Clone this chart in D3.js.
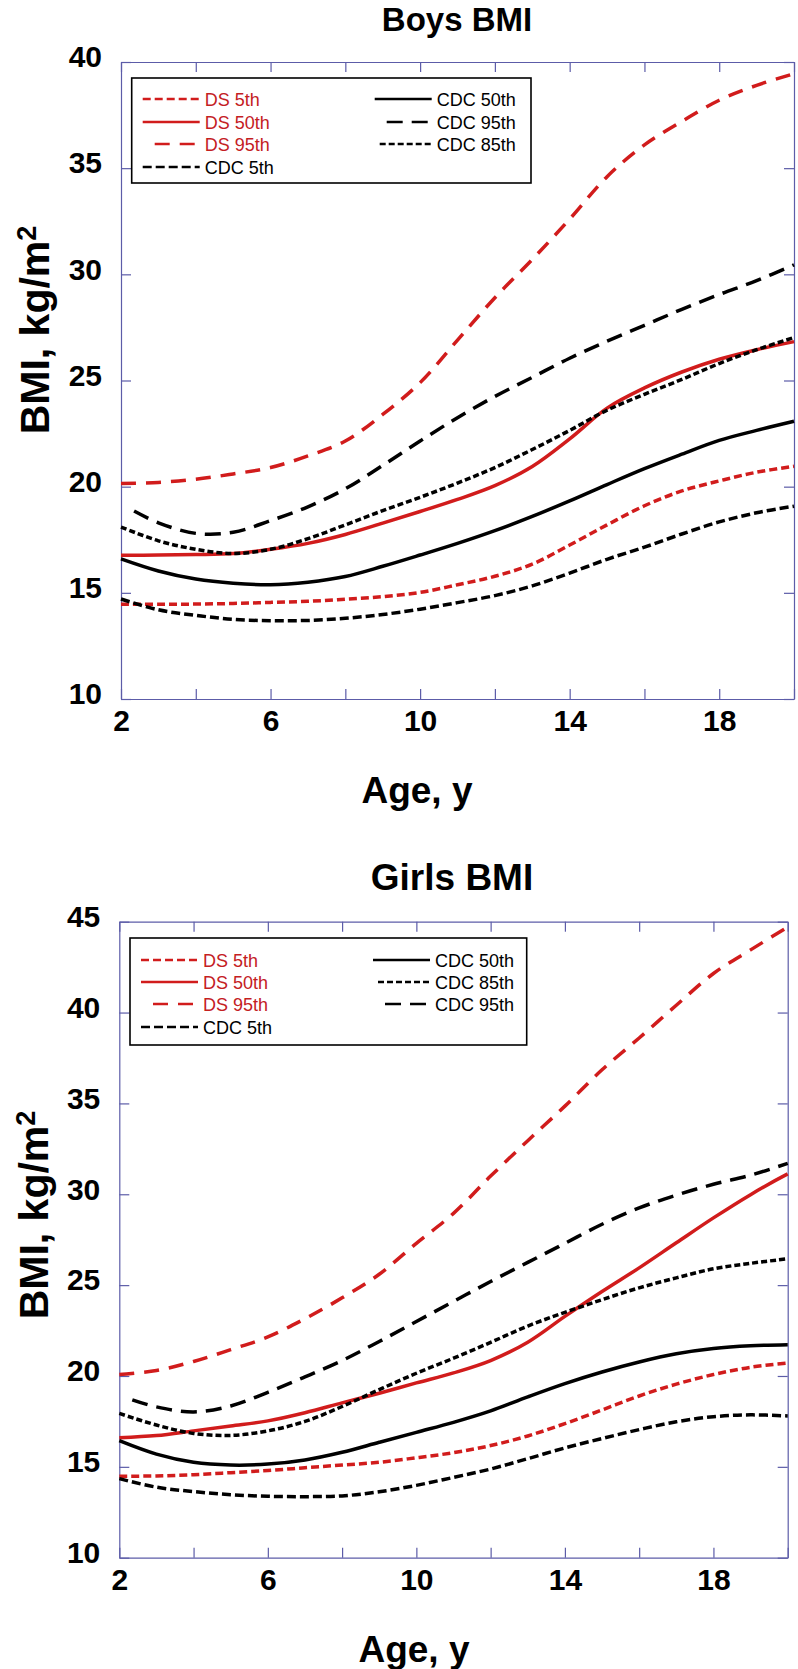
<!DOCTYPE html>
<html>
<head>
<meta charset="utf-8">
<script src="https://cdn.jsdelivr.net/npm/d3@7"></script>
<style>
  body { margin: 0; background: #fff; }
  text { font-family: "Liberation Sans", Arial, sans-serif; }
</style>
</head>
<body>
<div id="chart"></div>
<script>
// ages (years) shared by most curves; CDC 95th starts a little after 2
const ages = [2, 3, 4, 5, 6, 7, 8, 9, 10, 11, 12, 13, 14, 15, 16, 17, 18, 19, 20];
const agesCdc95 = [2.35, 3, 4, 5, 6, 7, 8, 9, 10, 11, 12, 13, 14, 15, 16, 17, 18, 19, 20];
const xTicks = [2, 4, 6, 8, 10, 12, 14, 16, 18, 20];

// Boys BMI percentiles
const boysDs5 = [14.46, 14.46, 14.47, 14.5, 14.55, 14.6, 14.7, 14.82, 15.02, 15.38, 15.78, 16.35, 17.25, 18.2, 19.1, 19.8, 20.27, 20.68, 20.96];
const boysDs50 = [16.77, 16.78, 16.8, 16.85, 17.05, 17.33, 17.75, 18.28, 18.83, 19.4, 20.05, 20.95, 22.25, 23.7, 24.65, 25.4, 26.0, 26.45, 26.83];
const boysDs95 = [20.15, 20.2, 20.35, 20.6, 20.9, 21.45, 22.15, 23.4, 24.9, 26.9, 28.9, 30.7, 32.6, 34.6, 36.1, 37.2, 38.2, 38.9, 39.45];
const boysCdc5 = [14.71, 14.2, 13.94, 13.75, 13.69, 13.7, 13.8, 13.98, 14.23, 14.54, 14.87, 15.33, 15.93, 16.58, 17.15, 17.77, 18.34, 18.77, 19.08];
const boysCdc50 = [16.6, 16.03, 15.65, 15.45, 15.38, 15.5, 15.77, 16.25, 16.78, 17.33, 17.93, 18.6, 19.33, 20.1, 20.85, 21.53, 22.18, 22.65, 23.08];
const boysCdc85 = [18.1, 17.45, 17.05, 16.85, 17.05, 17.55, 18.2, 18.87, 19.5, 20.17, 20.9, 21.75, 22.65, 23.6, 24.35, 25.05, 25.8, 26.45, 27.02];
const boysCdc95 = [18.85, 18.3, 17.8, 17.85, 18.4, 19.05, 19.9, 21.0, 22.15, 23.25, 24.25, 25.15, 26.05, 26.85, 27.6, 28.35, 29.05, 29.7, 30.45];

// Girls BMI percentiles
const girlsDs5 = [14.48, 14.5, 14.57, 14.68, 14.8, 14.95, 15.1, 15.25, 15.5, 15.78, 16.17, 16.7, 17.38, 18.13, 18.9, 19.55, 20.08, 20.48, 20.71];
const girlsDs50 = [16.6, 16.72, 16.98, 17.25, 17.53, 17.98, 18.52, 19.05, 19.62, 20.17, 20.85, 21.86, 23.28, 24.65, 25.95, 27.33, 28.7, 29.98, 31.12];
const girlsDs95 = [20.08, 20.3, 20.8, 21.45, 22.15, 23.15, 24.3, 25.6, 27.3, 28.95, 31.0, 32.95, 34.85, 36.85, 38.6, 40.4, 42.15, 43.45, 44.7];
const girlsCdc5 = [14.35, 13.88, 13.64, 13.47, 13.38, 13.36, 13.4, 13.63, 13.98, 14.42, 14.88, 15.45, 16.04, 16.56, 17.05, 17.48, 17.76, 17.86, 17.8];
const girlsCdc50 = [16.44, 15.7, 15.25, 15.1, 15.15, 15.38, 15.8, 16.35, 16.9, 17.45, 18.08, 18.85, 19.58, 20.22, 20.77, 21.22, 21.51, 21.66, 21.72];
const girlsCdc85 = [17.94, 17.3, 16.84, 16.73, 16.98, 17.5, 18.32, 19.25, 20.15, 20.98, 21.85, 22.75, 23.5, 24.2, 24.85, 25.4, 25.9, 26.2, 26.45];
const girlsCdc95 = [18.69, 18.3, 18.02, 18.35, 19.1, 19.95, 20.85, 21.9, 23.0, 24.1, 25.2, 26.25, 27.3, 28.35, 29.25, 29.95, 30.55, 31.05, 31.7];

const RED = "#d11c1c";
const RED_TEXT = "#c4201f";
const AXIS = "#5c5ca8";

const styles = {
  ds5:   {color: RED, dash: "8,4"},
  ds50:  {color: RED, dash: null},
  ds95:  {color: RED, dash: "15,10"},
  cdc5:  {color: "#000", dash: "9,4"},
  cdc50: {color: "#000", dash: null},
  cdc85: {color: "#000", dash: "6,3"},
  cdc95: {color: "#000", dash: "16,9"}
};

const panels = [
  {
    title: "Boys BMI", titleSize: 33, titleX: 457, titleY: 30.5,
    left: 121, right: 794, top: 62, bottom: 699, yMax: 40,
    xLabelX: 417, xLabelY: 803, yLabelX: 49, yLabelY: 330,
    legend: {x: 131.7, y: 78, w: 399.3, h: 105, rows: [99, 122, 144, 167]},
    series: [
      {key: "ds5", name: "DS 5th", x: ages, v: boysDs5, col: 0},
      {key: "ds50", name: "DS 50th", x: ages, v: boysDs50, col: 0},
      {key: "ds95", name: "DS 95th", x: ages, v: boysDs95, col: 0},
      {key: "cdc5", name: "CDC 5th", x: ages, v: boysCdc5, col: 0},
      {key: "cdc50", name: "CDC 50th", x: ages, v: boysCdc50, col: 1},
      {key: "cdc95", name: "CDC 95th", x: agesCdc95, v: boysCdc95, col: 1},
      {key: "cdc85", name: "CDC 85th", x: ages, v: boysCdc85, col: 1}
    ]
  },
  {
    title: "Girls BMI", titleSize: 37, titleX: 452, titleY: 890,
    left: 119.3, right: 787.7, top: 921.7, bottom: 1557.7, yMax: 45,
    xLabelX: 414, xLabelY: 1662, yLabelX: 48, yLabelY: 1215,
    legend: {x: 130, y: 938, w: 396.7, h: 107, rows: [960, 982, 1004, 1027]},
    series: [
      {key: "ds5", name: "DS 5th", x: ages, v: girlsDs5, col: 0},
      {key: "ds50", name: "DS 50th", x: ages, v: girlsDs50, col: 0},
      {key: "ds95", name: "DS 95th", x: ages, v: girlsDs95, col: 0},
      {key: "cdc5", name: "CDC 5th", x: ages, v: girlsCdc5, col: 0},
      {key: "cdc50", name: "CDC 50th", x: ages, v: girlsCdc50, col: 1},
      {key: "cdc85", name: "CDC 85th", x: ages, v: girlsCdc85, col: 1},
      {key: "cdc95", name: "CDC 95th", x: agesCdc95, v: girlsCdc95, col: 1}
    ]
  }
];

const svg = d3.select("#chart")
  .append("svg")
  .attr("width", 798)
  .attr("height", 1669);

panels.forEach(function (p) {
  const x = d3.scaleLinear().domain([2, 20]).range([p.left, p.right]);
  const y = d3.scaleLinear().domain([10, p.yMax]).range([p.bottom, p.top]);
  const yTicks = d3.range(10, p.yMax + 1, 5);

  // title
  svg.append("text")
    .attr("x", p.titleX).attr("y", p.titleY)
    .attr("text-anchor", "middle")
    .style("font-size", p.titleSize + "px").style("font-weight", "bold")
    .text(p.title);

  // axes, ticks pointing inward on all four sides
  const gx = svg.append("g")
    .attr("transform", `translate(0, ${p.bottom})`)
    .call(d3.axisBottom(x).tickValues(xTicks).tickSizeInner(-10).tickSizeOuter(0).tickPadding(11)
      .tickFormat(d => (d % 4 === 2 ? d : "")));
  gx.selectAll("text").style("font-size", "30px").style("font-weight", "bold").attr("fill", "#000");

  svg.append("g")
    .attr("transform", `translate(0, ${p.top})`)
    .call(d3.axisTop(x).tickValues(xTicks).tickSizeInner(-10).tickSizeOuter(0).tickFormat(""));

  const gy = svg.append("g")
    .attr("transform", `translate(${p.left}, 0)`)
    .call(d3.axisLeft(y).tickValues(yTicks).tickSizeInner(-10).tickSizeOuter(0).tickPadding(19));
  gy.selectAll("text").style("font-size", "30px").style("font-weight", "bold")
    .attr("fill", "#000").attr("dy", "0.16em");

  svg.append("g")
    .attr("transform", `translate(${p.right}, 0)`)
    .call(d3.axisRight(y).tickValues(yTicks).tickSizeInner(-10).tickSizeOuter(0).tickFormat(""));

  svg.selectAll(".domain, .tick line").attr("stroke", AXIS).attr("stroke-width", 1.2);

  // axis titles
  svg.append("text")
    .attr("x", p.xLabelX).attr("y", p.xLabelY)
    .attr("text-anchor", "middle")
    .style("font-size", "37px").style("font-weight", "bold")
    .text("Age, y");

  const yl = svg.append("text")
    .attr("transform", `translate(${p.yLabelX}, ${p.yLabelY}) rotate(-90)`)
    .attr("text-anchor", "middle")
    .style("font-size", "41px").style("font-weight", "bold");
  yl.append("tspan").text("BMI, kg/m");
  yl.append("tspan").attr("dy", "-0.5em").style("font-size", "27px").text("2");

  // curves
  const line = d3.line()
    .x(d => x(d[0]))
    .y(d => y(d[1]))
    .curve(d3.curveCatmullRom.alpha(0.5));

  svg.append("g")
    .selectAll("path")
    .data(p.series)
    .join("path")
      .attr("d", s => line(d3.zip(s.x, s.v)))
      .attr("fill", "none")
      .attr("stroke", s => styles[s.key].color)
      .attr("stroke-width", 3.5)
      .attr("stroke-dasharray", s => styles[s.key].dash);

  // legend
  const L = p.legend;
  const lg = svg.append("g");
  lg.append("rect")
    .attr("x", L.x).attr("y", L.y).attr("width", L.w).attr("height", L.h)
    .attr("fill", "#fff").attr("stroke", "#000").attr("stroke-width", 1.6);

  const cols = [0, 1].map(c => p.series.filter(s => s.col === c));
  cols.forEach(function (items, c) {
    items.forEach(function (s, i) {
      const st = styles[s.key];
      const ry = L.rows[i];
      let x1, x2, tx;
      if (c === 0) {
        x1 = L.x + (s.key === "ds95" || s.key === "cdc95" ? 23 : 11);
        x2 = L.x + 68;
        tx = L.x + 73;
      } else {
        x2 = L.x + 300;
        x1 = L.x + (s.key === "cdc95" ? 255 : (s.key === "cdc50" ? 243 : 248));
        tx = L.x + 305;
      }
      lg.append("line")
        .attr("x1", x1).attr("x2", x2).attr("y1", ry).attr("y2", ry)
        .attr("stroke", st.color).attr("stroke-width", 2.6)
        .attr("stroke-dasharray", st.dash);
      lg.append("text")
        .attr("x", tx).attr("y", ry + 6.5)
        .style("font-size", "18px")
        .attr("fill", s.key.startsWith("ds") ? RED_TEXT : "#000")
        .text(s.name);
    });
  });
});
</script>
</body>
</html>
